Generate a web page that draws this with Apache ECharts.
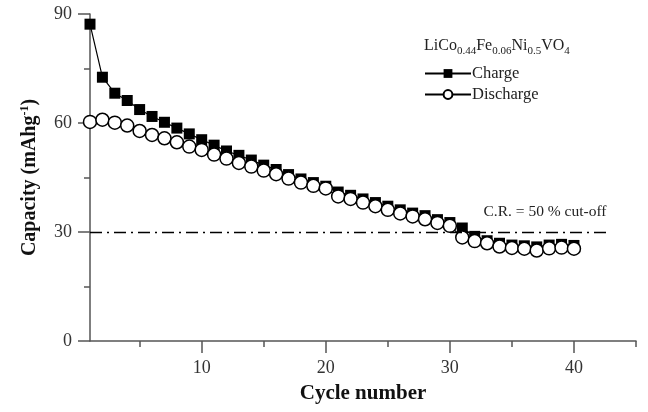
<!DOCTYPE html>
<html>
<head>
<meta charset="utf-8">
<script src="https://cdn.jsdelivr.net/npm/echarts@6/dist/echarts.min.js"></script>
<style>html,body{margin:0;padding:0;background:#fff}#c{width:648px;height:412px}</style>
</head>
<body>
<div id="c"></div>
<script>
const cycles = [1,2,3,4,5,6,7,8,9,10,11,12,13,14,15,16,17,18,19,20,21,22,23,24,25,26,27,28,29,30,31,32,33,34,35,36,37,38,39,40];
const charge = [87.2,72.6,68.2,66.2,63.7,61.8,60.2,58.6,57.0,55.4,53.9,52.3,51.1,49.8,48.4,47.2,45.8,44.6,43.6,42.6,41.0,40.1,39.1,38.1,37.1,36.1,35.2,34.5,33.4,32.6,31.1,28.8,27.6,26.9,26.4,26.2,25.9,26.4,26.6,26.3];
const discharge = [60.3,60.9,60.1,59.3,57.8,56.7,55.8,54.7,53.5,52.6,51.3,50.2,49.0,48.0,46.9,45.9,44.7,43.6,42.7,42.0,39.8,39.1,38.1,37.1,36.1,35.1,34.3,33.5,32.5,31.7,28.5,27.5,26.9,26.0,25.6,25.4,24.9,25.5,25.7,25.4];
const xMajorTicks = [10,20,30,40];
const xMinorTicks = [5,15,25,35,45];
const cutoffValue = 30;
const cutoffEndCycle = 42.7;

const F = 'Liberation Serif';
const chart = echarts.init(document.getElementById('c'));
chart.setOption({
  backgroundColor: '#fff',
  animation: false,
  textStyle: { fontFamily: F },
  grid: { left: 90, right: 12, top: 14, bottom: 71 },
  title: {
    left: 424, top: 35, padding: 0,
    text: 'LiCo{s|0.44}Fe{s|0.06}Ni{s|0.5}VO{s|4}',
    textStyle: {
      fontFamily: F, fontSize: 16, fontWeight: 'normal', color: '#222',
      rich: { s: { fontFamily: F, fontSize: 11, color: '#222', verticalAlign: 'bottom', padding: [11, 0, 0, 0] } }
    }
  },
  legend: {
    left: 419, top: 60, orient: 'vertical',
    itemWidth: 46, itemHeight: 11, itemGap: 4,
    textStyle: { fontFamily: F, fontSize: 16.5, color: '#222', padding: [0,0,0,-4] },
    data: ['Charge', 'Discharge']
  },
  xAxis: [{
    type: 'value', min: 1, max: 45,
    name: 'Cycle number', nameLocation: 'middle', nameGap: 42,
    nameTextStyle: { fontFamily: F, fontSize: 21, fontWeight: 'bold', color: '#111' },
    axisLine: { lineStyle: { color: '#555', width: 1.5 } },
    axisTick: { show: true, inside: false, length: 12, customValues: xMajorTicks, lineStyle: { color: '#555', width: 1.5 } },
    axisLabel: { customValues: xMajorTicks, margin: 18, fontFamily: F, fontSize: 18, color: '#333' },
    splitLine: { show: false }
  }, {
    type: 'value', min: 1, max: 45, position: 'bottom',
    axisLine: { show: false },
    axisTick: { show: true, inside: false, length: 6, customValues: xMinorTicks, lineStyle: { color: '#555', width: 1.5 } },
    axisLabel: { show: false },
    splitLine: { show: false }
  }],
  yAxis: {
    type: 'value', min: 0, max: 90, interval: 30,
    name: 'Capacity (mAhg{sup|-1})', nameLocation: 'middle', nameGap: 50,
    nameTextStyle: {
      fontFamily: F, fontSize: 20, fontWeight: 'bold', color: '#111',
      rich: { sup: { fontFamily: F, fontSize: 12, fontWeight: 'bold', color: '#111', verticalAlign: 'top', padding: [0, 0, 9, 0] } }
    },
    axisLine: { show: true, lineStyle: { color: '#555', width: 1.5 } },
    axisTick: { show: true, inside: false, length: 12, lineStyle: { color: '#555', width: 1.5 } },
    minorTick: { show: true, splitNumber: 2, length: 6, lineStyle: { color: '#555', width: 1.5 } },
    axisLabel: { margin: 18, fontFamily: F, fontSize: 18, color: '#333' },
    splitLine: { show: false }
  },
  series: [{
    name: 'Charge', type: 'line', xAxisIndex: 0,
    data: cycles.map((c, i) => [c, charge[i]]),
    symbol: 'rect', symbolSize: 11,
    itemStyle: { color: '#000' },
    lineStyle: { color: '#000', width: 1.2 },
    markLine: {
      silent: true, symbol: ['none', 'none'],
      lineStyle: { color: '#000', width: 1.3, type: [12, 5, 2, 5] },
      label: { show: true, position: 'insideEndTop', distance: [1, 12], formatter: 'C.R. = 50 % cut-off', fontFamily: F, fontSize: 15.5, color: '#222' },
      data: [[{ coord: [1, cutoffValue] }, { coord: [cutoffEndCycle, cutoffValue] }]]
    }
  }, {
    name: 'Discharge', type: 'line', xAxisIndex: 0,
    data: cycles.map((c, i) => [c, discharge[i]]),
    symbol: 'circle', symbolSize: 13,
    itemStyle: { color: '#fff', borderColor: '#000', borderWidth: 1.5 },
    lineStyle: { color: '#000', width: 1.2 }
  }]
});
</script>
</body>
</html>
